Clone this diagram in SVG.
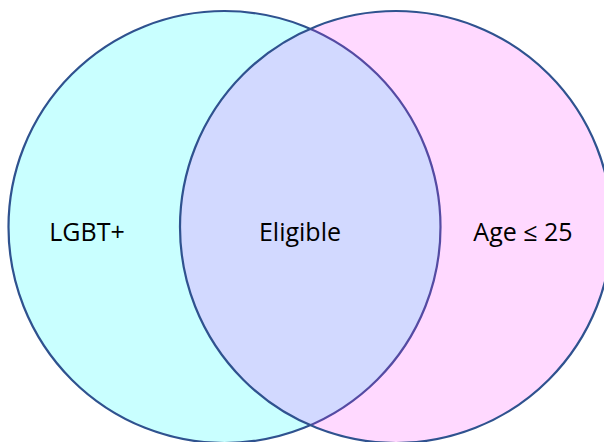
<svg xmlns="http://www.w3.org/2000/svg" width="604" height="442" viewBox="0 0 604 442">
  <style>
    .set { stroke: #2F528F; stroke-width: 2.2; }
    .lbl { font-family: "Open Sans", "Liberation Sans", sans-serif; font-size: 25px; fill: #000; text-anchor: middle; }
  </style>
  <rect width="604" height="442" fill="#FFFFFF"/>
  <g id="set-lgbt">
    <circle class="set" cx="224.5" cy="227" r="216" fill="#C9FFFF"/>
  </g>
  <g id="set-age">
    <circle class="set" cx="396" cy="227" r="216" fill="#FF2CFF" fill-opacity="0.18"/>
  </g>
  <g id="labels">
    <text id="label-lgbt" class="lbl" x="87" y="241">LGBT+</text>
    <text id="label-eligible" class="lbl" x="300" y="241">Eligible</text>
    <text id="label-age" class="lbl" x="523" y="241">Age ≤ 25</text>
  </g>
</svg>
